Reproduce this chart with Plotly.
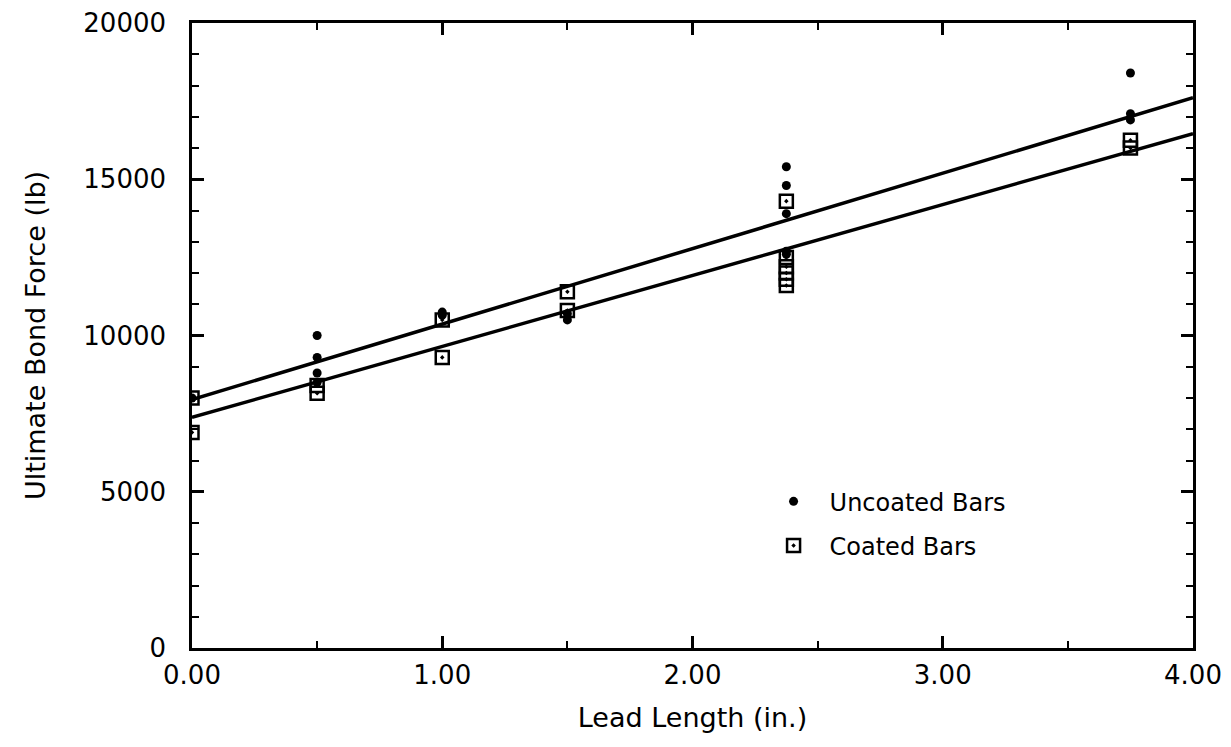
import plotly.graph_objects as go

# lead length (in.) and ultimate bond force (lb)
uncoated_x = [0.0, 0.5, 0.5, 0.5, 0.5, 1.0, 1.0, 1.5, 1.5, 2.375, 2.375, 2.375, 2.375, 2.375, 3.75, 3.75, 3.75]
uncoated_y = [8000, 10000, 9300, 8800, 8500, 10750, 10650, 10700, 10500, 15400, 14800, 13900, 12700, 12600, 18400, 17100, 16900]

coated_x = [0.0, 0.0, 0.5, 0.5, 1.0, 1.0, 1.5, 1.5, 2.375, 2.375, 2.375, 2.375, 2.375, 2.375, 3.75, 3.75]
coated_y = [8000, 6900, 8400, 8150, 10500, 9300, 11400, 10800, 14300, 12500, 12200, 12000, 11800, 11600, 16250, 16000]

# fitted lines: intercept (lb), slope (lb/in.)
uncoated_fit = (7950, 2415)
coated_fit = (7380, 2270)
fit_x = [0.0, 4.0]

x_ticks = [0, 1, 2, 3, 4]
x_labels = ["0.00", "1.00", "2.00", "3.00", "4.00"]
y_ticks = [0, 5000, 10000, 15000, 20000]
y_labels = ["0", "5000", "10000", "15000", "20000"]

font = "DejaVu Sans"

fig = go.Figure()

fig.add_trace(go.Scatter(
    x=fit_x, y=[uncoated_fit[0] + uncoated_fit[1] * v for v in fit_x],
    mode="lines", line=dict(color="black", width=3.5), showlegend=False))
fig.add_trace(go.Scatter(
    x=fit_x, y=[coated_fit[0] + coated_fit[1] * v for v in fit_x],
    mode="lines", line=dict(color="black", width=3.5), showlegend=False))

fig.add_trace(go.Scatter(
    x=uncoated_x, y=uncoated_y, mode="markers", name="Uncoated Bars",
    legendgroup="a",
    marker=dict(symbol="circle", size=9, color="black")))
fig.add_trace(go.Scatter(
    x=coated_x, y=coated_y, mode="markers", name="Coated Bars",
    legendgroup="b",
    marker=dict(symbol="square-open-dot", size=13, color="black",
                line=dict(width=2.5, color="black"))))

axis_common = dict(
    showline=True, linecolor="black", linewidth=2.5, mirror="ticks",
    ticks="inside", ticklen=12, tickwidth=2.5, tickcolor="black",
    showgrid=False, zeroline=False, ticklabeloverflow="allow",
    tickfont=dict(family=font, size=26, color="black"),
)

fig.update_xaxes(
    range=[0, 4], tickvals=x_ticks, ticktext=x_labels,
    ticklabelstandoff=2,
    minor=dict(dtick=0.5, ticks="inside", ticklen=7, tickwidth=2, tickcolor="black"),
    title=dict(text="Lead Length (in.)", font=dict(family=font, size=27, color="black"), standoff=20),
    **axis_common)
fig.update_yaxes(
    range=[0, 20000], tickvals=y_ticks, ticktext=y_labels,
    ticklabelstandoff=18,
    minor=dict(dtick=1000, ticks="inside", ticklen=7, tickwidth=2, tickcolor="black"),
    title=dict(text="Ultimate Bond Force (lb)", font=dict(family=font, size=27, color="black"), standoff=30),
    **axis_common)

fig.update_layout(
    width=1231, height=747,
    margin=dict(l=184, r=46, t=15, b=107, autoexpand=False),
    plot_bgcolor="white", paper_bgcolor="white",
    legend=dict(x=0.565, y=0.27, xanchor="left", yanchor="top",
                font=dict(family=font, size=24, color="black"),
                itemwidth=62,
                tracegroupgap=10, bgcolor="rgba(0,0,0,0)"),
)

fig.write_html("out.html")
